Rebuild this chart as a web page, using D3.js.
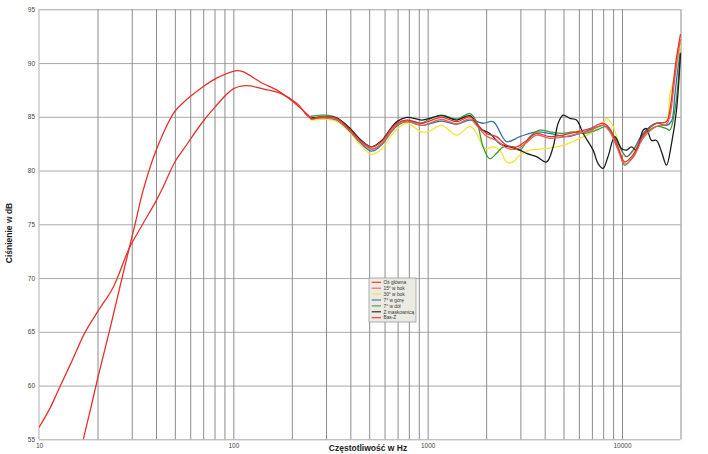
<!DOCTYPE html>
<html><head><meta charset="utf-8">
<script src="https://cdn.jsdelivr.net/npm/d3@7"></script>
<style>body{margin:0;background:#fff}svg{display:block}</style>
</head><body><svg id="c" width="708" height="454"></svg>
<script>
// ---------- DATA ----------
const seriesNames = ["Oś główna", "15° w bok", "30° w bok", "7° w górę", "7° w dół", "Z maskownicą", "Bas-Z"];
const seriesColors = ["#e3342c", "#e8645a", "#f2e536", "#3d6da6", "#3b9a3f", "#1e1e1e", "#e8302a"];

const xTickValues = [10, 100, 1000, 10000];
const xTickLabels = ["10", "100", "1000", "10000"];
const yTickValues = [55, 60, 65, 70, 75, 80, 85, 90, 95];

// low-frequency part of main axis curve (shallow red)
const lowFreq = [10, 11.4, 12.6, 14.7, 17.2, 20, 24.1, 29.1, 34.4, 40.1, 43.6, 50, 57.5, 68.7, 80.4, 99.9, 117, 142, 174, 212];
const lowDb   = [56.1, 57.9, 59.6, 62.2, 64.9, 66.85, 69.15, 72.75, 75.1, 77.2, 78.5, 80.8, 82.4, 84.4, 85.9, 87.6, 87.9, 87.6, 87.2, 86.25];

// Bas-Z (steep red)
const basFreq = [16.9, 18.3, 20, 23.2, 26.1, 29.1, 31.2, 34.4, 40.3, 50, 57.5, 69.8, 82, 104, 112, 142, 167, 203, 253];
const basDb   = [55.0, 57.6, 60.6, 65.3, 69.2, 72.75, 75.0, 78.2, 82.0, 85.5, 86.6, 87.8, 88.6, 89.3, 89.2, 88.1, 87.5, 86.4, 84.85];

// mid band, shared frequencies
const midFreq = [250, 280, 300, 340, 400, 450, 514, 580, 650, 700, 780, 930, 1000, 1180, 1410, 1650];
const osMid   = [84.85, 85.0, 85.0, 84.85, 83.75, 82.8, 82.2, 82.7, 83.9, 84.45, 84.7, 84.4, 84.55, 84.95, 84.55, 85.0];
const b15Mid  = [84.8, 84.9, 84.9, 84.75, 83.65, 82.7, 82.0, 82.5, 83.7, 84.3, 84.55, 84.2, 84.35, 84.75, 84.35, 84.8];
const b30Mid  = [84.7, 84.75, 84.75, 84.6, 83.5, 82.4, 81.5, 82.0, 83.3, 83.9, 84.4, 83.6, 83.6, 84.2, 83.3, 84.1];
const upMid   = [84.75, 84.9, 84.9, 84.7, 83.6, 82.6, 81.8, 82.4, 83.6, 84.2, 84.55, 84.2, 84.3, 84.6, 84.3, 84.7];
const downMid = [85.05, 85.15, 85.15, 84.9, 83.8, 82.8, 82.0, 82.5, 83.7, 84.3, 84.6, 84.4, 84.7, 85.15, 84.8, 85.3];
const maskMid = [84.9, 85.0, 85.0, 84.9, 83.9, 82.9, 82.2, 82.8, 84.0, 84.6, 84.95, 84.7, 84.8, 85.1, 84.7, 85.1];

// high band, per series
const osHighFreq = [1785, 2009, 2262, 2546, 2866, 3228, 3633, 4252, 4980, 5834, 6829, 7990, 8651, 9550, 10330, 11400, 12840, 15050, 16940, 17620, 18330, 19070, 20000];
const osHigh     = [84.4, 83.45, 83.15, 82.35, 82.2, 82.8, 83.45, 83.15, 83.3, 83.6, 83.9, 84.4, 83.9, 82.2, 80.8, 81.45, 83.3, 84.4, 84.55, 85.6, 88.0, 90.5, 92.7];
const b15High    = [84.2, 83.2, 82.8, 82.1, 82.0, 82.6, 83.3, 83.0, 83.1, 83.4, 83.7, 84.2, 83.6, 81.9, 80.6, 81.2, 83.0, 84.1, 84.3, 85.0, 87.2, 89.8, 92.2];

const b30HighFreq = [1785, 1969, 2173, 2351, 2546, 2754, 2981, 3357, 4089, 4980, 6066, 7101, 7990, 8316, 8831, 9550, 10330, 11400, 12840, 15050, 16940, 17620, 18330, 19070, 20000];
const b30High     = [83.45, 82.05, 82.2, 81.9, 80.8, 80.8, 81.45, 81.9, 82.05, 82.35, 83.0, 83.6, 84.4, 84.85, 84.4, 82.8, 81.3, 81.75, 83.45, 84.1, 84.6, 87.0, 88.2, 89.6, 91.7];

const upHighFreq = [1930, 2173, 2546, 2981, 3633, 4252, 5184, 6066, 7101, 7990, 8651, 9380, 10540, 11400, 12840, 15050, 16940, 17980, 18700, 19400, 20000];
const upHigh     = [84.4, 84.55, 82.7, 83.15, 83.6, 83.45, 83.15, 83.45, 83.9, 84.2, 83.75, 82.8, 81.3, 81.9, 83.45, 84.4, 84.2, 84.6, 87.0, 89.5, 91.0];

const downHighFreq = [1785, 1930, 2089, 2262, 2445, 2754, 2981, 3357, 3777, 4252, 4980, 5605, 6314, 7390, 8316, 8991, 9744, 10330, 11400, 12840, 15050, 16940, 17620, 18700, 19400, 20000];
const downHigh     = [84.55, 82.2, 81.1, 81.6, 82.2, 82.2, 81.9, 83.15, 83.75, 83.6, 83.45, 83.6, 83.45, 83.75, 84.1, 83.15, 81.6, 80.5, 81.3, 83.15, 84.1, 83.9, 83.75, 85.6, 88.0, 90.9];

const maskHighFreq = [1856, 2089, 2351, 2648, 2981, 3228, 3633, 4089, 4422, 4693, 4980, 5390, 5834, 6314, 7101, 7531, 7990, 8474, 9183, 9934, 10540, 11190, 11860, 12840, 13360, 14190, 15050, 15970, 16940, 17980, 19070, 20000];
const maskHigh     = [83.9, 83.45, 82.5, 82.2, 81.9, 81.6, 81.3, 80.8, 82.2, 84.4, 85.15, 84.85, 84.7, 83.45, 81.9, 80.65, 80.2, 81.3, 83.15, 82.05, 81.9, 82.2, 81.9, 83.75, 83.9, 82.8, 82.8, 81.75, 80.5, 82.5, 85.6, 90.9];

// ---------- BUILD ----------
const zip = (f, v) => f.map((d, i) => ({f: d, v: v[i]}));
const series = [
  zip(lowFreq.concat(midFreq, osHighFreq), lowDb.concat(osMid, osHigh)),
  zip(midFreq.concat(osHighFreq), b15Mid.concat(b15High)),
  zip(midFreq.concat(b30HighFreq), b30Mid.concat(b30High)),
  zip(midFreq.concat(upHighFreq), upMid.concat(upHigh)),
  zip(midFreq.concat(downHighFreq), downMid.concat(downHigh)),
  zip(midFreq.concat(maskHighFreq), maskMid.concat(maskHigh)),
  zip(basFreq, basDb)
];

const L = 39, R = 680.5, T = 9.3, B = 439.3;
const svg = d3.select("#c");
const x = d3.scaleLog().domain([10, 20000]).range([L, R]);
const y = d3.scaleLinear().domain([55, 95]).range([B, T]);

const gridFreqs = [];
[10, 100, 1000].forEach(dec => { for (let m = 1; m <= 9; m++) gridFreqs.push(dec * m); });
gridFreqs.push(10000, 20000);

// horizontal grid + y labels
const yAxis = svg.append("g").attr("transform", `translate(${L},0)`)
  .call(d3.axisLeft(y).tickValues(yTickValues).tickSize(-(R - L)).tickPadding(4).tickFormat(d3.format("d")));
yAxis.select(".domain").remove();
yAxis.selectAll(".tick line").attr("stroke", "#a9a9a9").attr("stroke-width", 1);
yAxis.selectAll(".tick text").attr("font-family", "Liberation Sans, Arial, sans-serif").attr("font-size", 6.5).attr("fill", "#444");

// vertical grid
const xGrid = svg.append("g").attr("transform", `translate(0,${B})`)
  .call(d3.axisBottom(x).tickValues(gridFreqs.filter(d => d > 10)).tickSize(-(B - T)).tickFormat(""));
xGrid.select(".domain").remove();
xGrid.selectAll(".tick line").attr("stroke", "#8c8c8c").attr("stroke-width", 1);

// x labels
const xAxis = svg.append("g").attr("transform", `translate(0,${B})`)
  .call(d3.axisBottom(x).tickValues(xTickValues).tickSize(0).tickPadding(4).tickFormat((d, i) => xTickLabels[i]));
xAxis.select(".domain").remove();
xAxis.selectAll(".tick text").attr("font-family", "Liberation Sans, Arial, sans-serif").attr("font-size", 6.5).attr("fill", "#444");

// left axis line
svg.append("line").attr("x1", L).attr("x2", L).attr("y1", T).attr("y2", B).attr("stroke", "#bdbdbd").attr("stroke-width", 1.2);

// clip
svg.append("clipPath").attr("id", "clip").append("rect").attr("x", L).attr("y", T - 1).attr("width", R - L + 2).attr("height", B - T + 1);

const line = d3.line().x(d => x(d.f)).y(d => y(d.v)).curve(d3.curveCatmullRom.alpha(0.5));
const order = [2, 3, 4, 5, 1, 0, 6];
svg.append("g").attr("clip-path", "url(#clip)")
  .selectAll("path").data(order).join("path")
  .attr("d", i => line(series[i]))
  .attr("fill", "none")
  .attr("stroke", i => seriesColors[i])
  .attr("stroke-width", 1.3)
  .attr("stroke-linejoin", "round");

// axis titles
svg.append("text").attr("transform", "translate(12,233) rotate(-90)")
  .attr("text-anchor", "middle").attr("font-family", "Liberation Sans, Arial, sans-serif")
  .attr("font-weight", "bold").attr("font-size", 8.5).attr("fill", "#222").text("Ciśnienie w dB");
svg.append("text").attr("x", 368).attr("y", 451)
  .attr("text-anchor", "middle").attr("font-family", "Liberation Sans, Arial, sans-serif")
  .attr("font-weight", "bold").attr("font-size", 8.5).attr("fill", "#222").text("Częstotliwość w Hz");

// legend
const lg = svg.append("g").attr("transform", "translate(369,278)");
lg.append("rect").attr("width", 47).attr("height", 44).attr("fill", "#ebebe4").attr("stroke", "#9a9a9a").attr("stroke-width", 0.8);
const items = lg.selectAll("g.it").data(seriesNames).join("g").attr("class", "it")
  .attr("transform", (d, i) => `translate(0,${4.3 + i * 5.9})`);
items.append("line").attr("x1", 2.7).attr("x2", 12).attr("stroke", (d, i) => seriesColors[i]).attr("stroke-width", 1.1);
items.append("text").attr("x", 14.5).attr("y", 1.7).attr("font-family", "Liberation Sans, Arial, sans-serif")
  .attr("font-size", 4.8).attr("fill", "#333").text(d => d);
</script></body></html>
